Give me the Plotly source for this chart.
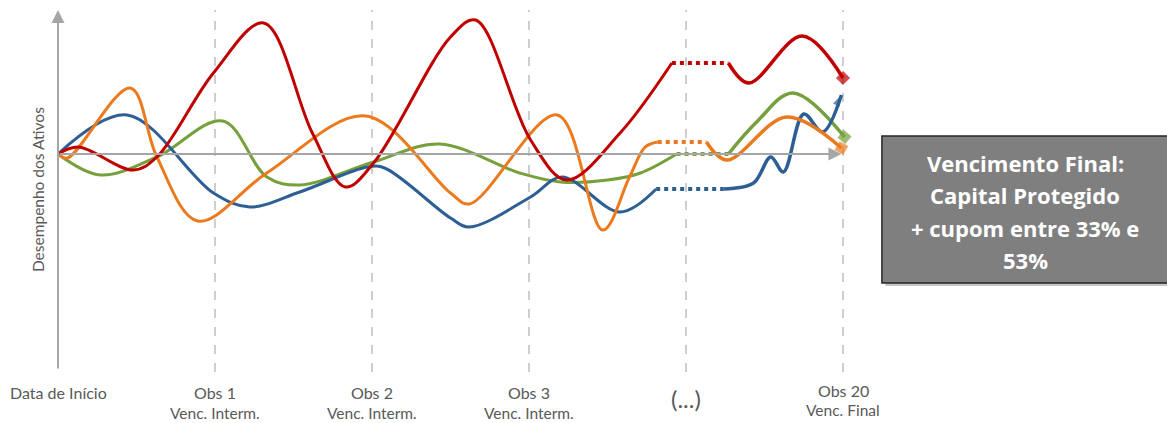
import plotly.graph_objects as go

# ---------------- data ----------------
# x: 0 = Data de Início, 1..3 = Obs 1..3, 4 = (...), 5 = Obs 20
# y: asset performance relative to start (0 = initial level)
x_label_pos = [0, 1, 2, 3, 4, 5]
x_labels_top = ["Data de Início", "Obs 1", "Obs 2", "Obs 3", "(...)", "Obs 20"]
x_labels_bottom = ["", "Venc. Interm.", "Venc. Interm.", "Venc. Interm.", "", "Venc. Final"]
obs_lines_x = [1, 2, 3, 4, 5]

y_title = "Desempenho dos Ativos"
box_lines = ["Vencimento Final:", "Capital Protegido", "+ cupom entre 33% e", "53%"]

# red asset
red_x1 = [0, 0.13, 0.48, 0.63, 0.99, 1.31, 1.62, 1.83, 2.01, 2.50, 2.66, 3.01, 3.24, 3.58, 3.91]
red_y1 = [0, 0.07, -0.16, -0.03, 0.81, 1.31, 0.21, -0.33, -0.09, 1.17, 1.34, 0.14, -0.26, 0.21, 0.91]
red_x2 = [3.91, 4.27]
red_y2 = [0.91, 0.91]
red_x3 = [4.27, 4.40, 4.74, 5.00]
red_y3 = [0.91, 0.71, 1.18, 0.76]

# blue asset
blue_x1 = [0, 0.44, 0.99, 1.22, 1.54, 1.97, 2.08, 2.50, 2.62, 3.01, 3.21, 3.58, 3.81]
blue_y1 = [0, 0.39, -0.39, -0.53, -0.38, -0.13, -0.14, -0.64, -0.73, -0.43, -0.23, -0.58, -0.35]
blue_x2 = [3.81, 4.24]
blue_y2 = [-0.35, -0.35]
blue_x3 = [4.24, 4.43, 4.54, 4.62, 4.75, 4.87, 4.99]
blue_y3 = [-0.35, -0.29, -0.03, -0.18, 0.40, 0.22, 0.59]

# green asset
green_x1 = [0, 0.27, 0.63, 1.05, 1.33, 1.54, 2.01, 2.43, 2.94, 3.20, 3.50, 3.71, 3.94]
green_y1 = [0, -0.21, -0.03, 0.33, -0.23, -0.31, -0.08, 0.10, -0.19, -0.28, -0.26, -0.19, 0]
green_x2 = [3.94, 4.27]
green_y2 = [0, 0]
green_x3 = [4.27, 4.45, 4.68, 5.01]
green_y3 = [0, 0.32, 0.61, 0.17]

# orange asset
orange_x1 = [0, 0.06, 0.46, 0.63, 0.89, 1.33, 1.96, 2.50, 2.62, 3.18, 3.47, 3.64, 3.74, 3.82]
orange_y1 = [0, -0.04, 0.66, -0.03, -0.67, -0.19, 0.38, -0.39, -0.50, 0.39, -0.76, -0.23, 0.07, 0.12]
orange_x2 = [3.82, 4.13]
orange_y2 = [0.12, 0.12]
orange_x3 = [4.13, 4.26, 4.64, 4.99]
orange_y3 = [0.12, -0.06, 0.37, 0.06]

colors = {"red": "#C00000", "blue": "#2D5F94", "green": "#76A03C", "orange": "#EC7A1C"}
end_symbols = {"red": "square", "blue": "arrow", "green": "square", "orange": "square"}
end_sizes = {"red": 10, "blue": 12, "green": 10, "orange": 10}

series = {
    "green": (green_x1, green_y1, green_x2, green_y2, green_x3, green_y3),
    "blue": (blue_x1, blue_y1, blue_x2, blue_y2, blue_x3, blue_y3),
    "orange": (orange_x1, orange_y1, orange_x2, orange_y2, orange_x3, orange_y3),
    "red": (red_x1, red_y1, red_x2, red_y2, red_x3, red_y3),
}

# ---------------- figure ----------------
W, H = 1167, 423
X_RANGE = [-0.3694, 7.0637]
Y_RANGE = [-2.69, 1.54]
AXIS_GRAY = "#A6A6A6"
TEXT_GRAY = "#595959"
FONT = "Lato"
BOX_FONT = "Open Sans"

fig = go.Figure()

for name, (x1, y1, x2, y2, x3, y3) in series.items():
    c = colors[name]
    fig.add_trace(go.Scatter(x=x1, y=y1, mode="lines",
                             line=dict(color=c, width=3, shape="spline", smoothing=1.0),
                             hoverinfo="skip", showlegend=False))
    fig.add_trace(go.Scatter(x=x2, y=y2, mode="lines",
                             line=dict(color=c, width=4, dash="dot"),
                             hoverinfo="skip", showlegend=False))
    sizes = [0] * (len(x3) - 1) + [end_sizes[name]]
    fig.add_trace(go.Scatter(x=x3, y=y3, mode="lines+markers",
                             line=dict(color=c, width=3.5, shape="spline", smoothing=1.0),
                             marker=dict(symbol=end_symbols[name], size=sizes, color=c,
                                         angleref="previous", line=dict(width=0)),
                             hoverinfo="skip", showlegend=False))

shapes = []
for xv in obs_lines_x:
    shapes.append(dict(type="line", x0=xv, x1=xv, y0=-2.18, y1=1.44, xref="x", yref="y",
                       line=dict(color="#BFBFBF", width=1.5, dash="dash"), layer="below"))
# box shadow + box
shapes.append(dict(type="rect", x0=5.27, x1=7.10, y0=-1.32, y1=0.15, xref="x", yref="y",
                   fillcolor="rgba(0,0,0,0.22)", line=dict(width=0), layer="above"))
shapes.append(dict(type="rect", x0=5.248, x1=7.08, y0=-1.29, y1=0.18, xref="x", yref="y",
                   fillcolor="#7F7F7F", line=dict(color="#262626", width=1.5), layer="above"))

annotations = []
# axes arrows
annotations.append(dict(x=0, y=1.44, ax=0, ay=-2.16, xref="x", yref="y", axref="x", ayref="y",
                        text="", showarrow=True, arrowhead=2, arrowsize=1.3, arrowwidth=2,
                        arrowcolor=AXIS_GRAY))
annotations.append(dict(x=4.99, y=0, ax=0, ay=0, xref="x", yref="y", axref="x", ayref="y",
                        text="", showarrow=True, arrowhead=2, arrowsize=1.3, arrowwidth=2,
                        arrowcolor=AXIS_GRAY))
# category labels (two lines each)
for xv, top, bot in zip(x_label_pos, x_labels_top, x_labels_bottom):
    if top == "(...)":
        annotations.append(dict(x=xv, y=-2.44, xref="x", yref="y", text=top, showarrow=False,
                                font=dict(family=FONT, size=24, color=TEXT_GRAY),
                                xanchor="center", yanchor="middle"))
        continue
    y_top = -2.38 if xv != 5 else -2.36
    annotations.append(dict(x=xv, y=y_top, xref="x", yref="y", text=top, showarrow=False,
                            font=dict(family=FONT, size=16, color=TEXT_GRAY),
                            xanchor="center", yanchor="middle"))
    if bot:
        y_bot = -2.585 if xv != 5 else -2.56
        annotations.append(dict(x=xv, y=y_bot, xref="x", yref="y", text=bot, showarrow=False,
                                font=dict(family=FONT, size=15.5, color=TEXT_GRAY),
                                xanchor="center", yanchor="middle"))
# y title
annotations.append(dict(x=-0.127, y=-0.36, xref="x", yref="y", text=y_title, showarrow=False,
                        textangle=-90, font=dict(family=FONT, size=15.5, color=TEXT_GRAY),
                        xanchor="center", yanchor="middle"))
# box text
box_y = [-0.09, -0.41, -0.74, -1.06]
for yv, t in zip(box_y, box_lines):
    annotations.append(dict(x=6.16, y=yv, xref="x", yref="y", text="<b>" + t + "</b>",
                            showarrow=False, font=dict(family=BOX_FONT, size=22, color="white"),
                            xanchor="center", yanchor="middle"))

fig.update_layout(
    width=W, height=H,
    margin=dict(l=0, r=0, t=0, b=0),
    paper_bgcolor="white", plot_bgcolor="white",
    xaxis=dict(range=X_RANGE, visible=False, fixedrange=True),
    yaxis=dict(range=Y_RANGE, visible=False, fixedrange=True),
    shapes=shapes, annotations=annotations,
    showlegend=False,
)

fig.write_html("out.html", config={"displayModeBar": False},
               post_script="document.body.style.margin='0';document.body.style.overflow='hidden';")
